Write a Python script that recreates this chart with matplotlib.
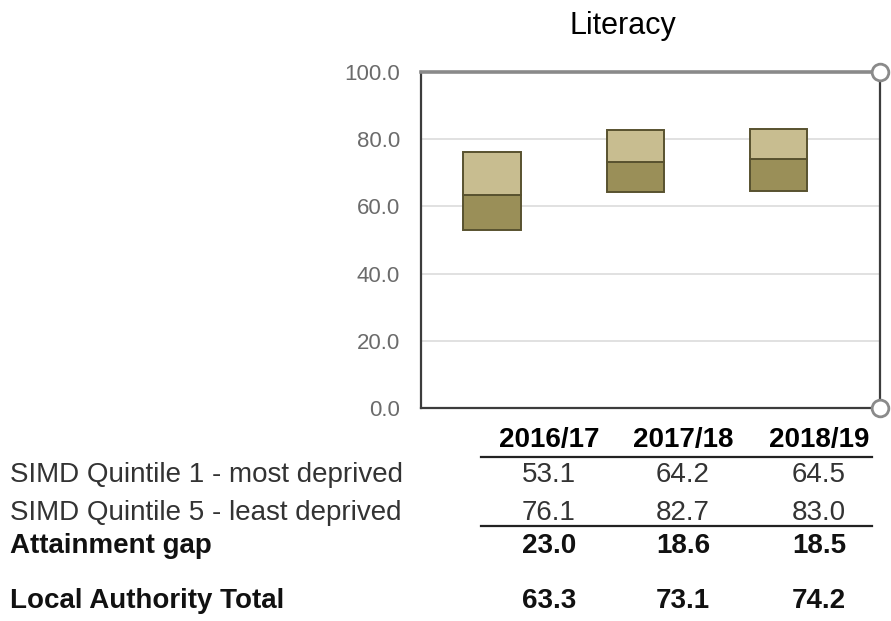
import matplotlib
matplotlib.use("Agg")
import matplotlib.pyplot as plt
from matplotlib.lines import Line2D

# Data
years = ["2016/17", "2017/18", "2018/19"]
quintile1 = [53.1, 64.2, 64.5]
quintile5 = [76.1, 82.7, 83.0]
attainment_gap = [23.0, 18.6, 18.5]
la_total = [63.3, 73.1, 74.2]
row_labels = ["SIMD Quintile 1 - most deprived",
              "SIMD Quintile 5 - least deprived",
              "Attainment gap",
              "Local Authority Total"]
yticks = [0, 20, 40, 60, 80, 100]

W, H = 891, 621
fig = plt.figure(figsize=(W / 100, H / 100), dpi=100)
plt.rcParams["font.family"] = ["Liberation Sans", "DejaVu Sans"]

def fx(px):
    return px / W

def fy(py):
    return 1 - py / H

# Chart area
ax = fig.add_axes([fx(421), fy(408), fx(880) - fx(421), fy(72) - fy(408)])
x = list(range(len(years)))
lower = [t - q for t, q in zip(la_total, quintile1)]
upper = [q - t for q, t in zip(quintile5, la_total)]
ax.bar(x, lower, bottom=quintile1, width=0.40, color="#9a8f58",
       edgecolor="#58522f", linewidth=1.4, zorder=3)
ax.bar(x, upper, bottom=la_total, width=0.40, color="#c8bd90",
       edgecolor="#58522f", linewidth=1.4, zorder=3)

ax.set_xlim(-0.496, 2.709)
ax.set_ylim(0, 100)
ax.set_yticks(yticks)
ax.set_yticklabels([f"{v:.1f}" for v in yticks])
ax.tick_params(axis="y", length=0, pad=15, labelsize=16, labelcolor="#6b6b6b")
ax.set_xticks([])
for v in yticks[1:-1]:
    ax.axhline(v, color="#dcdcdc", linewidth=1.2, zorder=1)

for side in ("left", "bottom", "right"):
    ax.spines[side].set_color("#3c3c3c")
    ax.spines[side].set_linewidth(1.6)
ax.spines["top"].set_color("#8a8a8a")
ax.spines["top"].set_linewidth(2.6)

# Corner handles on the frame
ax.plot([1, 1], [0, 1], transform=ax.transAxes, linestyle="none", marker="o",
        markersize=12, markerfacecolor="white", markeredgecolor="#8a8a8a",
        markeredgewidth=2, clip_on=False, zorder=5)

fig.text(fx(623), fy(26), "Literacy", ha="center", va="center", fontsize=22)

# Table beneath the chart
col_x = [549, 683, 819]
fs = 20
for cx, yr in zip(col_x, years):
    fig.text(fx(cx), fy(447), yr, ha="center", va="baseline",
             fontsize=fs, fontweight="bold")

rows = [
    (row_labels[0], quintile1, 482, "normal", "#333333"),
    (row_labels[1], quintile5, 520, "normal", "#333333"),
    (row_labels[2], attainment_gap, 553, "bold", "#111111"),
    (row_labels[3], la_total, 608, "bold", "#111111"),
]
for label, vals, by, weight, col in rows:
    fig.text(fx(10), fy(by), label, ha="left", va="baseline",
             fontsize=fs, fontweight=weight, color=col)
    for cx, v in zip(col_x, vals):
        fig.text(fx(cx), fy(by), f"{v:.1f}", ha="center", va="baseline",
                 fontsize=fs, fontweight=weight, color=col)

for ly in (457, 526):
    fig.add_artist(Line2D([fx(481), fx(872)], [fy(ly), fy(ly)],
                          color="#222222", linewidth=1.6))

fig.savefig("out.png", dpi=100)
